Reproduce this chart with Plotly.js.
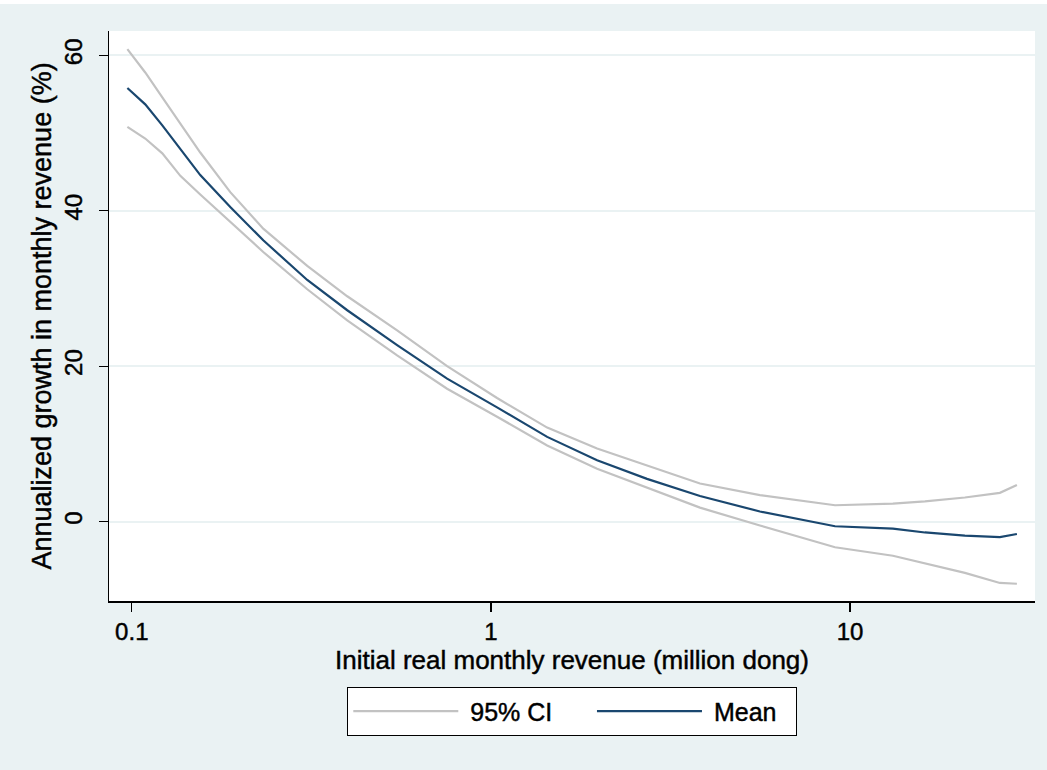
<!DOCTYPE html>
<html>
<head>
<meta charset="utf-8">
<script src="https://cdn.plot.ly/plotly-3.0.1.min.js"></script>
<style>
  html, body { margin: 0; padding: 0; background: #eaf2f3; }
  #chart { width: 1047px; height: 770px; }
  #chart text { paint-order: stroke; stroke: #000000; stroke-width: 0.45px; }
</style>
</head>
<body>
<div id="chart"></div>
<script>
// Initial real monthly revenue (million dong), log scale
var revenue = [0.0972, 0.109, 0.1216, 0.1365, 0.1551, 0.188, 0.2323, 0.308, 0.398, 0.548, 0.755, 1.04,
               1.434, 1.975, 2.72, 3.82, 5.61, 9.08, 13.16, 16.16, 20.88, 26.13, 29.14];
// Annualized growth in monthly revenue (%)
var meanGrowth = [55.8, 53.7, 51.0, 47.9, 44.6, 40.5, 36.2, 31.1, 27.2, 22.7, 18.4, 14.7,
                  10.9, 7.9, 5.5, 3.3, 1.3, -0.6, -0.9, -1.4, -1.8, -2.0, -1.6];
var upperCI = [60.8, 57.8, 54.6, 51.2, 47.5, 42.4, 37.7, 32.9, 29.0, 24.6, 20.0, 15.9,
               12.1, 9.4, 7.2, 4.9, 3.4, 2.1, 2.3, 2.6, 3.1, 3.7, 4.7];
var lowerCI = [50.8, 49.3, 47.4, 44.5, 42.1, 38.6, 34.7, 29.9, 25.9, 21.4, 17.1, 13.5,
               9.8, 6.8, 4.4, 1.8, -0.5, -3.3, -4.4, -5.4, -6.6, -7.9, -8.0];

var xTickVals = [0.1, 1, 10];
var xTickText = ['0.1', '1', '10'];
var yTickVals = [0, 20, 40, 60];
var yTickText = ['0', '20', '40', '60'];

var FONT = 'Liberation Sans, Arial, Helvetica, sans-serif';
var ciColor = '#c2c2c2';
var meanColor = '#1a476f';
var NB = '\u00a0';

var traces = [
  { x: revenue, y: upperCI, type: 'scatter', mode: 'lines', name: NB + '95% CI' + NB + NB + NB + NB + NB,
    legendgroup: 'ci', line: { color: ciColor, width: 2.2 } },
  { x: revenue, y: lowerCI, type: 'scatter', mode: 'lines', name: '95% CI',
    legendgroup: 'ci', showlegend: false, line: { color: ciColor, width: 2.2 } },
  { x: revenue, y: meanGrowth, type: 'scatter', mode: 'lines', name: NB + 'Mean' + NB + NB,
    line: { color: meanColor, width: 2.2 } }
];

var layout = {
  width: 1047, height: 770,
  paper_bgcolor: '#eaf2f3',
  plot_bgcolor: '#ffffff',
  margin: { l: 109, r: 12, t: 31, b: 169 },
  font: { family: FONT, color: '#000000', size: 24 },
  showlegend: true,
  xaxis: {
    type: 'log',
    range: [-1.0635, 1.5149],
    tickmode: 'array', tickvals: xTickVals, ticktext: xTickText,
    showgrid: false, zeroline: false,
    showline: true, linecolor: '#000000', linewidth: 1.5,
    ticks: 'outside', ticklen: 9, tickwidth: 1.3, tickcolor: '#000000',
    tickfont: { size: 24, family: FONT },
    title: { text: 'Initial real monthly revenue (million dong)', font: { size: 26, family: FONT }, standoff: 4 },
    fixedrange: true
  },
  yaxis: {
    range: [-10.22, 63.14],
    tickmode: 'array', tickvals: yTickVals, ticktext: yTickText,
    tickangle: -90,
    showgrid: true, gridcolor: '#eaf2f3', gridwidth: 2,
    zeroline: false,
    showline: true, linecolor: '#000000', linewidth: 1.5,
    ticks: 'outside', ticklen: 9, tickwidth: 1.3, tickcolor: '#000000',
    ticklabelstandoff: 7,
    tickfont: { size: 24, family: FONT },
    title: { text: 'Annualized growth in monthly revenue (%)', font: { size: 27, family: FONT }, standoff: 0 },
    fixedrange: true
  },
  legend: {
    orientation: 'h',
    x: 0.5, xanchor: 'center',
    y: -0.151, yanchor: 'top',
    bgcolor: '#ffffff',
    bordercolor: '#000000', borderwidth: 1.3,
    font: { size: 25, family: FONT },
    itemwidth: 105,
    traceorder: 'normal'
  },
  shapes: [
    { type: 'rect', xref: 'paper', yref: 'paper', x0: -0.2, x1: 1.2, y0: 1.0474, y1: 1.06,
      fillcolor: '#ffffff', line: { width: 0 }, layer: 'below' }
  ]
};

Plotly.newPlot('chart', traces, layout, { displayModeBar: false, staticPlot: true });
</script>
</body>
</html>
